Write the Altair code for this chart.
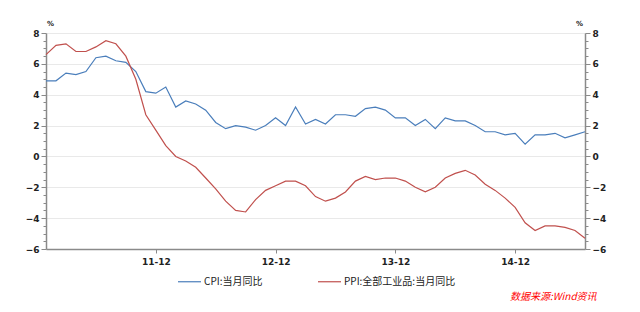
import altair as alt
import pandas as pd

# Monthly index 0 = 2011-01 ... 54 = 2015-07
cpi = [4.9, 4.9, 5.4, 5.3, 5.5, 6.4, 6.5, 6.2, 6.1, 5.5, 4.2, 4.1,
       4.5, 3.2, 3.6, 3.4, 3.0, 2.2, 1.8, 2.0, 1.9, 1.7, 2.0, 2.5,
       2.0, 3.2, 2.1, 2.4, 2.1, 2.7, 2.7, 2.6, 3.1, 3.2, 3.0, 2.5,
       2.5, 2.0, 2.4, 1.8, 2.5, 2.3, 2.3, 2.0, 1.6, 1.6, 1.4, 1.5,
       0.8, 1.4, 1.4, 1.5, 1.2, 1.4, 1.6]
ppi = [6.6, 7.2, 7.3, 6.8, 6.8, 7.1, 7.5, 7.3, 6.5, 5.0, 2.7, 1.7,
       0.7, 0.0, -0.3, -0.7, -1.4, -2.1, -2.9, -3.5, -3.6, -2.8, -2.2, -1.9,
       -1.6, -1.6, -1.9, -2.6, -2.9, -2.7, -2.3, -1.6, -1.3, -1.5, -1.4, -1.4,
       -1.6, -2.0, -2.3, -2.0, -1.4, -1.1, -0.9, -1.2, -1.8, -2.2, -2.7, -3.3,
       -4.3, -4.8, -4.5, -4.5, -4.6, -4.8, -5.3]
series_names = ["CPI:当月同比", "PPI:全部工业品:当月同比"]
series_colors = ["#4A7EBB", "#C0504D"]
x_tick_values = [11, 23, 35, 47]
x_tick_labels = ["11-12", "12-12", "13-12", "14-12"]
y_tick_values = [v / 2 for v in range(-12, 17)]
source_text = ["数据来源:Wind资讯"]

rows = []
for i, v in enumerate(cpi):
    rows.append({"m": i, "s": series_names[0], "v": v})
for i, v in enumerate(ppi):
    rows.append({"m": i, "s": series_names[1], "v": v})
df = pd.DataFrame(rows)

label_map = "{" + ",".join(f"'{k}':'{l}'" for k, l in zip(x_tick_values, x_tick_labels)) + "}"

x_enc = alt.X("m:Q", scale=alt.Scale(domain=[0, 54], nice=False, zero=False),
              axis=alt.Axis(values=x_tick_values, labelExpr=label_map + "[datum.value]",
                            title=None, grid=False, tickSize=4, labelPadding=4,
                            domainColor="#8a8a8a", domainWidth=1.5, tickColor="#8a8a8a",
                            labelFont="DejaVu Sans", labelFontSize=9, labelColor="#222",
                            labelFontWeight="bold"))

def yaxis(orient, grid):
    return alt.Axis(orient=orient, values=y_tick_values,
                    labelExpr="datum.value % 2 == 0 ? format(datum.value, 'd') : ''",
                    tickSize={"condition": {"test": "datum.value % 2 == 0", "value": 5}, "value": 3},
                    grid=grid, gridColor="#e9e9e9",
                    gridOpacity={"condition": {"test": "datum.value % 2 == 0", "value": 1}, "value": 0},
                    domainColor="#8a8a8a", domainWidth=1.5, tickColor="#8a8a8a",
                    labelFont="DejaVu Sans", labelFontSize=9, labelColor="#222",
                    labelFontWeight="bold", labelPadding=2,
                    title="%", titleAngle=0, titleFontSize=7, titleFont="DejaVu Sans",
                    titleFontWeight="bold", titleColor="#222",
                    titleX=4 if orient == "left" else -6, titleY=-7)

color = alt.Color("s:N", scale=alt.Scale(domain=series_names, range=series_colors),
                  legend=alt.Legend(orient="none", legendX=131, legendY=236,
                                    direction="horizontal", title=None,
                                    symbolType="stroke", symbolSize=529,
                                    symbolStrokeWidth=1.2, labelFont="Noto Sans CJK SC",
                                    labelFontSize=10, labelColor="#222",
                                    columnPadding=52, labelOffset=2, padding=0,
                                    labelLimit=300))

left = alt.Chart(df).transform_filter(
    alt.datum.s == series_names[0]
).mark_line(strokeWidth=1.2).encode(
    x=x_enc,
    y=alt.Y("v:Q", scale=alt.Scale(domain=[-6, 8], nice=False), axis=yaxis("left", True)),
    color=color,
)

right = alt.Chart(df).transform_filter(
    alt.datum.s == series_names[1]
).mark_line(strokeWidth=1.2).encode(
    x=x_enc,
    y=alt.Y("v:Q", scale=alt.Scale(domain=[-6, 8], nice=False), axis=yaxis("right", False)),
    color=color,
)

src = alt.Chart(pd.DataFrame({"t": source_text})).mark_text(
    align="left", baseline="middle", font="Noto Sans CJK SC", fontSize=10,
    fontStyle="italic", color="#FF0000"
).encode(x=alt.value(464), y=alt.value(264), text="t:N")

chart = alt.layer(left, right, src).resolve_scale(y="independent").properties(
    width=539, height=216,
    autosize=alt.AutoSizeParams(type="none"),
    padding={"left": 46, "top": 33, "right": 55, "bottom": 63},
).configure_view(stroke=None)

chart.save("out.html", embed_options={"renderer": "svg", "actions": False})
